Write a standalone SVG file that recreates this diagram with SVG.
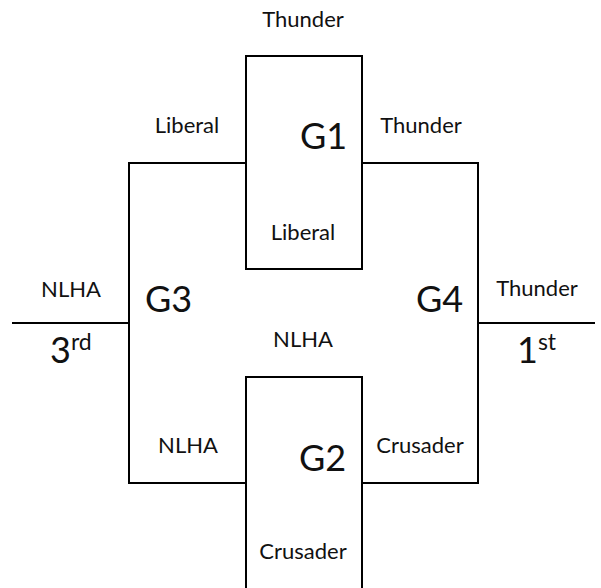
<svg xmlns="http://www.w3.org/2000/svg" width="601" height="588" viewBox="0 0 601 588">
<style>
  .box { fill: none; stroke: #000; stroke-width: 2; }
  .line { fill: none; stroke: #000; stroke-width: 2; }
  .lbl { font-family: Lato, "Open Sans", sans-serif; font-size: 22px; fill: #111; text-anchor: middle; }
  .big { font-family: Lato, "Open Sans", sans-serif; font-size: 36px; fill: #111; }
</style>
<rect width="601" height="588" fill="#fff"/>
<g id="connectors">
  <rect class="line" x="129" y="163" width="349" height="320"/>
  <line class="line" x1="12" y1="323" x2="129" y2="323"/>
  <line class="line" x1="478" y1="323" x2="595" y2="323"/>
</g>
<g id="G1">
  <rect class="box" x="246" y="56" width="116" height="213" fill="#fff" style="fill:#fff"/>
  <text class="big" x="300" y="149">G1</text>
  <text class="lbl" x="303" y="240">Liberal</text>
</g>
<g id="G2">
  <rect class="box" x="246" y="377" width="116" height="220" style="fill:#fff"/>
  <text class="big" x="299" y="471">G2</text>
  <text class="lbl" x="303" y="559">Crusader</text>
</g>
<g id="G3">
  <text class="big" x="145" y="312">G3</text>
</g>
<g id="G4">
  <text class="big" x="416" y="312">G4</text>
</g>
<g id="labels">
  <text class="lbl" x="303" y="27">Thunder</text>
  <text class="lbl" x="187" y="133">Liberal</text>
  <text class="lbl" x="421" y="133">Thunder</text>
  <text class="lbl" x="71" y="297">NLHA</text>
  <text class="lbl" x="537" y="296">Thunder</text>
  <text class="lbl" x="303" y="347">NLHA</text>
  <text class="lbl" x="188" y="453">NLHA</text>
  <text class="lbl" x="420" y="453">Crusader</text>
</g>
<g id="places">
  <text class="big" x="50" y="363">3<tspan font-size="23" dy="-13">rd</tspan></text>
  <text class="big" x="517" y="363">1<tspan font-size="23" dy="-13">st</tspan></text>
</g>
</svg>
